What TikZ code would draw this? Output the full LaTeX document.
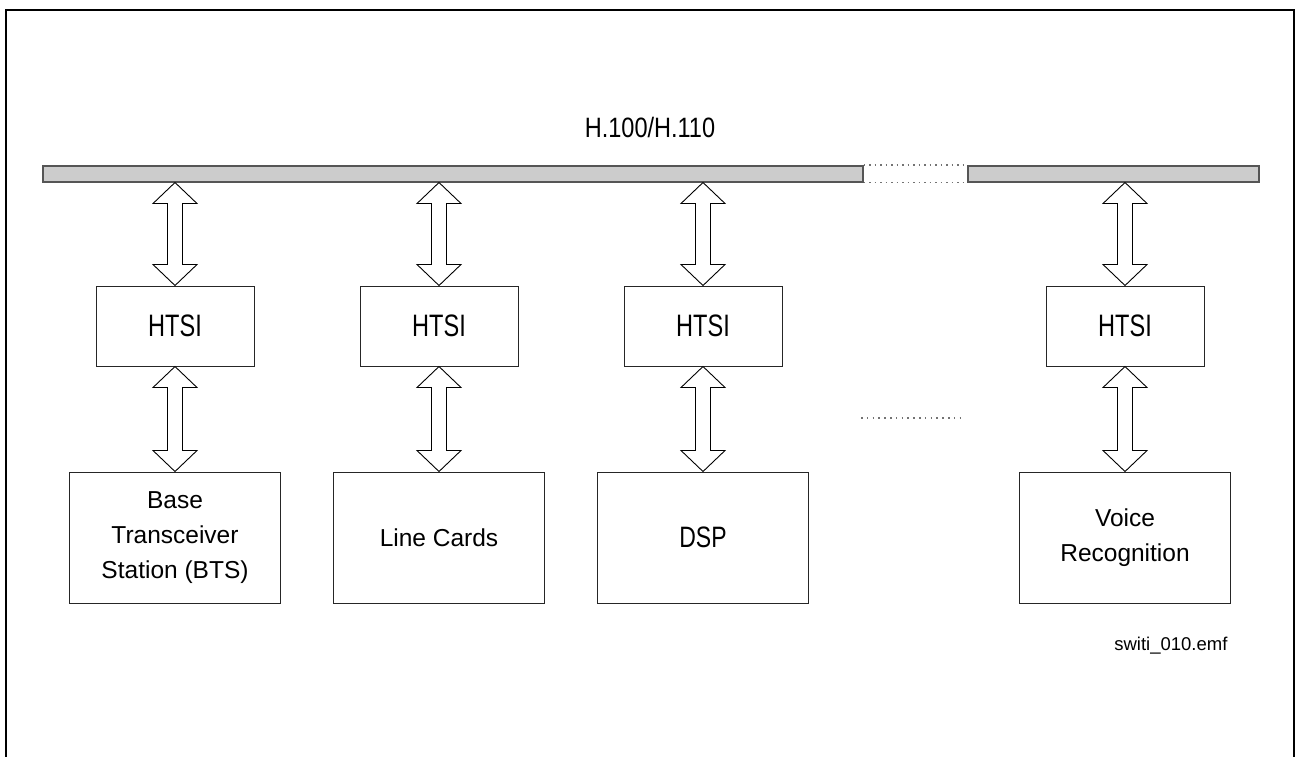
\documentclass[tikz,border=0pt]{standalone}
\usepackage{graphicx}
\usepackage{fontspec}
\setmainfont{Liberation Sans}
\usetikzlibrary{calc}
\definecolor{busfill}{HTML}{CCCCCC}
\definecolor{busline}{HTML}{555555}
\tikzset{
  bus/.style={draw=busline, fill=busfill, line width=1.5pt, minimum width=#1, minimum height=16, inner sep=0, anchor=north west},
  htsibox/.style={draw=black!85, line width=1pt, minimum width=158, minimum height=80, inner sep=0},
  unitbox/.style={draw=black!85, line width=1pt, minimum width=211, minimum height=131, inner sep=0, align=center, font=\fontsize{24.5}{35}\selectfont},
  blockarr/.style={draw=black, line width=0.9pt, fill=white, line join=miter},
  gapdots/.style={draw=black!55, line width=1.5pt, dash pattern=on 1.5pt off 4pt},
  middots/.style={draw=black!55, line width=1.5pt, dash pattern=on 1.5pt off 4.3pt},
}
\newcommand\dblarrow[2]{%
  \draw[blockarr] let \p1=(#1), \p2=(#2) in
   (\x1,\y1) -- (\x1+22pt,\y1-21pt) -- (\x1+7.5pt,\y1-21pt) -- (\x1+7.5pt,\y2+21pt)
   -- (\x1+22pt,\y2+21pt) -- (\x2,\y2) -- (\x1-22pt,\y2+21pt) -- (\x1-7.5pt,\y2+21pt)
   -- (\x1-7.5pt,\y1-21pt) -- (\x1-22pt,\y1-21pt) -- cycle;}
\newcommand\htsitext{\scalebox{0.76}[1]{\fontsize{31}{31}\selectfont HTSI}}
\begin{document}
\begin{tikzpicture}[x=1pt,y=-1pt]
\useasboundingbox (0,0) rectangle (1297,756);
% outer frame
\draw[line width=2pt] (6,760) -- (6,10) -- (1294,10) -- (1294,760);
% bus
\node[bus=820] (bus1) at (42,165) {};
\node[bus=291] (bus2) at (967,165) {};
\draw[gapdots] (bus1.north east) -- (bus2.north west);
\draw[gapdots] (bus1.south east) -- (bus2.south west);
\node[anchor=base, font=\fontsize{28}{28}\selectfont] (buslabel) at (650,137) {\scalebox{0.84}[1]{H.100/H.110}};
% HTSI boxes
\node[htsibox] (h1) at (175,326) {\htsitext};
\node[htsibox] (h2) at (439,326) {\htsitext};
\node[htsibox] (h3) at (703,326) {\htsitext};
\node[htsibox] (h4) at (1125,326) {\htsitext};
% unit boxes
\node[unitbox] (u1) at (175,537.5) {Base\\Transceiver\\Station (BTS)};
\node[unitbox] (u2) at (439,537.5) {Line Cards};
\node[unitbox] (u3) at (703,537.5) {\scalebox{0.78}[1]{\fontsize{29.5}{29.5}\selectfont DSP}};
\node[unitbox] (u4) at (1125,537.5) {Voice\\Recognition};
% arrows
\dblarrow{h1.north |- bus1.south}{h1.north}
\dblarrow{h2.north |- bus1.south}{h2.north}
\dblarrow{h3.north |- bus1.south}{h3.north}
\dblarrow{h4.north |- bus2.south}{h4.north}
\dblarrow{h1.south}{u1.north}
\dblarrow{h2.south}{u2.north}
\dblarrow{h3.south}{u3.north}
\dblarrow{h4.south}{u4.north}
% ellipsis between columns
\draw[middots] (861,418) -- (965,418);
% file label
\node[anchor=base east, font=\fontsize{18.5}{18.5}\selectfont] (fname) at (1231,650) {swi\-ti\_010.emf};
\end{tikzpicture}
\end{document}
